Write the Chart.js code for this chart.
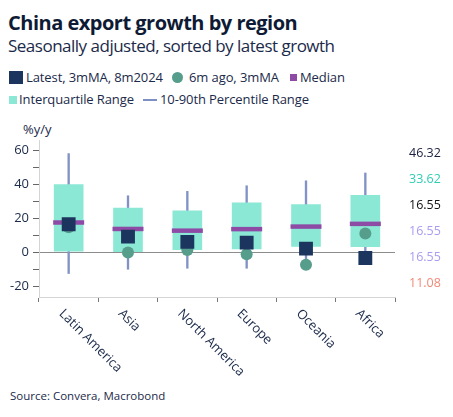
<!DOCTYPE html>
<html>
<head>
<meta charset="utf-8">
<script src="https://cdn.jsdelivr.net/npm/chart.js@4.4.1/dist/chart.umd.min.js"></script>
<style>
  html, body { margin: 0; padding: 0; background: #fff; }
  body { width: 453px; height: 417px; position: relative; overflow: hidden;
         font-family: "Open Sans", sans-serif; color: #1b2a4a; }
  .t { position: absolute; white-space: nowrap; line-height: 1; }
  #title { left: 8px; top: 13px; font-size: 20px; font-weight: 700; color: #0f1b35; letter-spacing: -0.5px; }
  #subtitle { left: 8px; top: 37px; font-size: 17px; letter-spacing: -0.5px; }
  .lg { font-size: 13px; letter-spacing: -0.1px; }
  .sw { position: absolute; }
  #unit { left: 23px; top: 123px; font-size: 13px; }
  #source { left: 10px; top: 390px; font-size: 11.5px; }
  #wrap { position: absolute; left: 0; top: 0; width: 453px; height: 417px; }
</style>
</head>
<body>
<div class="t" id="title">China export growth by region</div>
<div class="t" id="subtitle">Seasonally adjusted, sorted by latest growth</div>

<div class="sw" style="left:9px;top:71px;width:14px;height:13px;background:#1c355e;"></div>
<div class="t lg" style="left:26px;top:71px;">Latest, 3mMA, 8m2024</div>
<div class="sw" style="left:172px;top:72px;width:11px;height:11px;border-radius:50%;background:#579d8c;"></div>
<div class="t lg" style="left:189px;top:71px;">6m ago, 3mMA</div>
<div class="sw" style="left:290px;top:74px;width:7px;height:7px;background:#8d4ba6;"></div>
<div class="t lg" style="left:300px;top:71px;">Median</div>

<div class="sw" style="left:9px;top:96px;width:8px;height:8px;background:#8be8d5;"></div>
<div class="t lg" style="left:19px;top:93px;">Interquartile Range</div>
<div class="sw" style="left:143px;top:99px;width:14px;height:2px;background:#7d8fc4;"></div>
<div class="t lg" style="left:160px;top:93px;">10-90th Percentile Range</div>

<div class="t" id="unit">%y/y</div>
<div class="t" id="source">Source: Convera, Macrobond</div>

<div id="wrap"><canvas id="chart" width="453" height="417"></canvas></div>

<script>
  // values
  const categories = ['Latin America', 'Asia', 'North America', 'Europe', 'Oceania', 'Africa'];
  const p10 = [-12.5, -10, -9.4, -9.4, -5.5, -4];
  const p90 = [58, 33.2, 35.8, 39.1, 42, 46.6];
  const q25 = [0.5, 0.2, 1.4, 1.8, 3.3, 3.1];
  const q75 = [40, 26.1, 24.5, 29.3, 28.3, 33.6];
  const median = [17.5, 13.7, 12.7, 13.6, 15.1, 16.7];
  const latest = [16.5, 9.2, 6.1, 5.7, 2.1, -3.4];
  const sixMonthsAgo = [14.7, -0.2, 1.4, -1.2, -7.3, 11];
  const yTicks = [-20, -10, 0, 10, 20, 30, 40, 50, 60];

  // right-hand value labels, top to bottom
  const sideLabels = ['46.32', '33.62', '16.55', '16.55', '16.55', '11.08'];
  const sideColors = ['#1a1f3f', '#2ecdb5', '#111111', '#a99cf0', '#a99cf0', '#f08a78'];

  const NAVY = '#1c355e';
  const TEXT = '#1b2a4a';

  // x labels are rotated clockwise (Chart.js only rotates the other way)
  const xLabels = {
    id: 'xLabels',
    afterDraw(chart) {
      const x = chart.scales.x, ctx = chart.ctx;
      ctx.save();
      ctx.font = '13px "Open Sans"';
      ctx.fillStyle = TEXT;
      ctx.textAlign = 'left';
      ctx.textBaseline = 'top';
      categories.forEach((c, i) => {
        ctx.save();
        ctx.translate(x.getPixelForValue(i) - 3, x.top + 10);
        ctx.rotate(Math.PI / 4);
        ctx.fillText(c, 0, 0);
        ctx.restore();
      });
      ctx.restore();
    }
  };

  new Chart(document.getElementById('chart'), {
    type: 'bar',
    data: {
      labels: categories,
      datasets: [
        { type: 'scatter', label: 'Latest', data: latest.map((v, i) => ({ x: i, y: v })),
          pointStyle: 'rect', radius: 9.8, backgroundColor: NAVY, borderColor: NAVY,
          borderWidth: 0, order: 1 },
        { type: 'scatter', label: '6m ago', data: sixMonthsAgo.map((v, i) => ({ x: i, y: v })),
          pointStyle: 'circle', radius: 6, backgroundColor: '#579d8c', borderColor: '#579d8c',
          borderWidth: 0, order: 2 },
        { type: 'scatter', label: 'Median', data: median.map((v, i) => ({ x: i, y: v })),
          pointStyle: 'line', radius: 15.5, borderColor: '#8d4ba6', borderWidth: 4.5,
          order: 3 },
        { label: 'Interquartile Range', data: q25.map((v, i) => [v, q75[i]]),
          backgroundColor: '#8be8d5', borderWidth: 0, grouped: false,
          barPercentage: 0.5, categoryPercentage: 1, order: 4 },
        { label: '10-90th', data: p10.map((v, i) => [v, p90[i]]),
          backgroundColor: '#8193c6', borderWidth: 0, grouped: false,
          barThickness: 1.7, order: 5 },
      ]
    },
    plugins: [xLabels],
    options: {
      responsive: false,
      animation: false,
      layout: { padding: { left: 0, right: 0, top: 140, bottom: 0 } },
      plugins: { legend: { display: false }, tooltip: { enabled: false } },
      scales: {
        x: {
          type: 'category', offset: true,
          grid: { display: true, drawOnChartArea: false, offset: true, tickLength: 5, tickColor: '#777' },
          border: { display: true, color: '#d4d4d4' },
          ticks: { display: false },
          afterFit: (s) => { s.height = 120; },
        },
        y: {
          position: 'left', min: -26.3, max: 66,
          afterBuildTicks: (s) => { s.ticks = yTicks.map(v => ({ value: v })); },
          grid: {
            color: (c) => (c.tick && c.tick.value === 0 ? '#8c8c8c' : 'rgba(0,0,0,0)'),
            tickColor: '#666', tickLength: 6, lineWidth: 1,
          },
          border: { display: true, color: '#d4d4d4' },
          ticks: { color: TEXT, font: { family: 'Open Sans', size: 13 }, padding: 4,
                   callback: (v) => (v % 20 === 0 ? String(v) : '') },
          afterFit: (s) => { s.width = 39; },
        },
        y2: {
          position: 'right', min: -0.54, max: 5.5,
          afterBuildTicks: (s) => { s.ticks = [0, 1, 2, 3, 4, 5].map(v => ({ value: v })); },
          grid: { display: false, drawTicks: false },
          border: { display: false },
          ticks: { padding: 14, font: { family: 'Open Sans', size: 12.5 },
                   callback: (v) => sideLabels[5 - v],
                   color: (c) => sideColors[5 - c.tick.value] },
          afterFit: (s) => { s.width = 58; },
        },
      },
    },
  });
</script>
</body>
</html>
